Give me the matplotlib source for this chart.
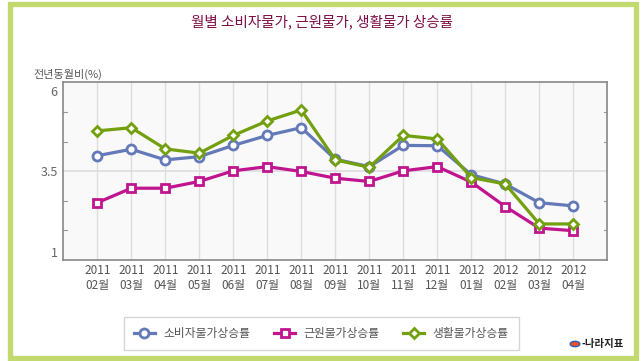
import matplotlib
matplotlib.use("Agg")
import matplotlib.pyplot as plt
from matplotlib.patches import Rectangle, Circle

plt.rcParams['font.family'] = ['Noto Sans CJK KR', 'DejaVu Sans']

# data
months = ["2011\n02월", "2011\n03월", "2011\n04월", "2011\n05월", "2011\n06월",
          "2011\n07월", "2011\n08월", "2011\n09월", "2011\n10월", "2011\n11월",
          "2011\n12월", "2012\n01월", "2012\n02월", "2012\n03월", "2012\n04월"]
cpi = [3.98, 4.18, 3.85, 3.95, 4.30, 4.61, 4.85, 3.87, 3.64, 4.30, 4.29, 3.39, 3.10, 2.52, 2.42]
core = [2.52, 2.97, 2.97, 3.18, 3.51, 3.64, 3.49, 3.28, 3.18, 3.51, 3.64, 3.16, 2.40, 1.73, 1.65]
living = [4.75, 4.85, 4.19, 4.06, 4.61, 5.06, 5.40, 3.85, 3.62, 4.61, 4.50, 3.30, 3.10, 1.86, 1.86]
series_names = ["소비자물가상승률", "근원물가상승률", "생활물가상승률"]
y_ticks = [1, 3.5, 6]

W, H = 644, 361
fig = plt.figure(figsize=(W / 100, H / 100), dpi=100)


def fx(px):
    return px / W


def fy(py):
    return 1 - py / H


# green frame
fig.patches.append(Rectangle((fx(9.5), fy(358)), fx(635.5) - fx(9.5), fy(3.5) - fy(358),
                             transform=fig.transFigure, fill=False,
                             edgecolor="#c2d96e", linewidth=3.8))

ax = fig.add_axes([fx(63.3), fy(260), fx(607.3) - fx(63.3), fy(82.3) - fy(260)])
ax.set_facecolor("#f9f9f9")

x = list(range(len(months)))
ax.plot(x, cpi, color="#6479b8", lw=2.3, marker="o", ms=6.5,
        mfc="white", mec="#6479b8", mew=2, label=series_names[0], zorder=3)
ax.plot(x, core, color="#c0158f", lw=2.3, marker="s", ms=6,
        mfc="white", mec="#c0158f", mew=2, label=series_names[1], zorder=3)
ax.plot(x, living, color="#72a00e", lw=2.3, marker="D", ms=5.5,
        mfc="white", mec="#72a00e", mew=2, label=series_names[2], zorder=4)

ax.set_xlim(-1, len(months))
ax.set_ylim(0.74, 6.26)
ax.set_xticks(x)
ax.set_xticklabels(months, fontsize=8.5, color="#555555", linespacing=1.15)
ax.set_yticks(y_ticks)
ax.set_yticklabels(["1", "3.5", "6"], fontsize=9, color="#666666")
ax.tick_params(axis="x", length=0, pad=3)
ax.tick_params(axis="y", length=0, pad=4)
for xi in x:
    ax.axvline(xi, color="#dddddd", lw=1, zorder=1)
ax.axhline(3.5, color="#dddddd", lw=1.2, zorder=1)

# small inner tick marks on both sides
for v in [3.5 - 1.84, 3.5 - 0.92, 3.5 + 0.92, 3.5 + 1.84]:
    ax.plot([-1, -0.9], [v, v], color="#999999", lw=0.8, zorder=2, clip_on=False)
    ax.plot([len(months) - 0.1, len(months)], [v, v], color="#999999", lw=0.8, zorder=2)

for s in ax.spines.values():
    s.set_color("#888888")
    s.set_linewidth(1.2)

fig.text(fx(322), fy(22), "월별 소비자물가, 근원물가, 생활물가 상승률", ha="center", va="center",
         fontsize=10.5, color="#7d1048", fontweight="medium")
fig.text(fx(33), fy(74), "전년동월비(%)", ha="left", va="center", fontsize=8, color="#555555")

leg = ax.legend(loc="center", bbox_to_anchor=(fx(321.3), fy(333.5)), bbox_transform=fig.transFigure,
                ncol=3, fontsize=8.5, frameon=True, fancybox=False, handlelength=1.8,
                columnspacing=2.0, handletextpad=0.7, borderpad=0.85, borderaxespad=0)
leg.get_frame().set_edgecolor("#cccccc")
leg.get_frame().set_linewidth(1)
for t in leg.get_texts():
    t.set_color("#555555")

# source logo
fig.patches.append(Circle((fx(575), fy(344)), 0.0075, transform=fig.transFigure,
                          facecolor="#e8502a", edgecolor="#3a5fb0", lw=1))
fig.text(fx(581), fy(344), "-나라지표", ha="left", va="center", fontsize=7.5,
         color="#222222", fontweight="bold")

fig.savefig("out.png", dpi=100)
